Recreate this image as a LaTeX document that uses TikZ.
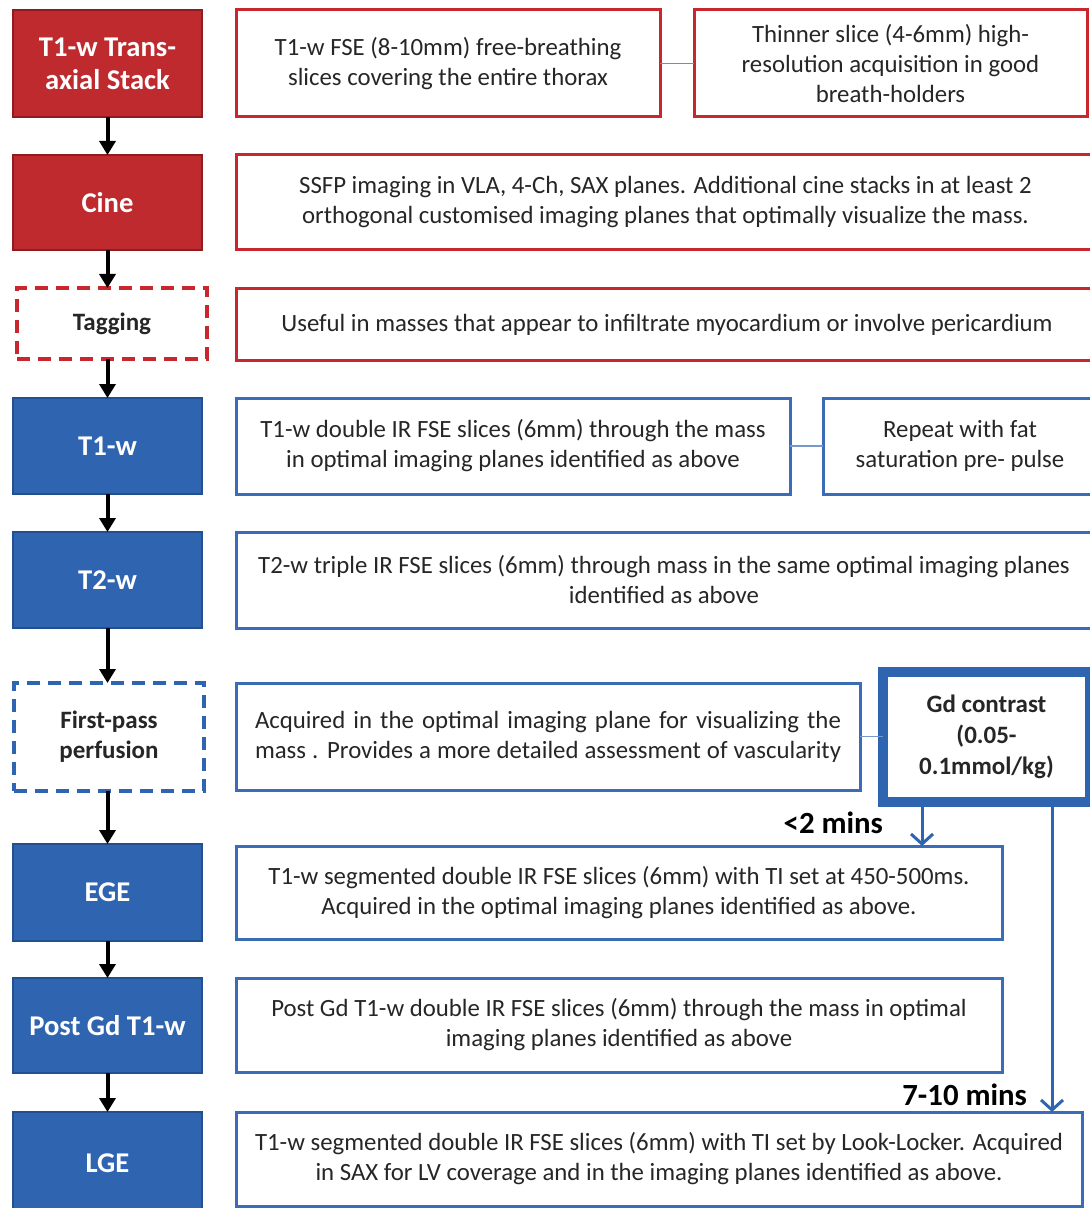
\documentclass[tikz,border=0pt]{standalone}
\usepackage{fontspec}
\setmainfont{Carlito}
\usetikzlibrary{arrows.meta}
\definecolor{cred}{HTML}{BE2A2E}
\definecolor{credd}{HTML}{8E1C20}
\definecolor{cblue}{HTML}{2F64B0}
\definecolor{cblued}{HTML}{22508F}
\definecolor{bline}{HTML}{3A6CB8}
\definecolor{rline}{HTML}{C8282D}
\definecolor{txt}{HTML}{262626}
\newcommand\bx[7]{\node[#6, minimum width={(#4-#2)*0.5pt}, minimum height={(#5-#3)*0.5pt}] (#1) at ({(#2+#4)/2},{(#3+#5)/2}) {#7};}
\begin{document}
\begin{tikzpicture}[x=0.5pt,y=-0.5pt,
  every node/.style={inner sep=0pt, outer sep=0pt},
  redstep/.style={fill=cred, draw=credd, line width=0.6pt, text=white, align=center, font=\fontsize{14.3}{16.5}\selectfont\bfseries},
  bluestep/.style={fill=cblue, draw=cblued, line width=0.6pt, text=white, align=center, font=\fontsize{14.3}{16.5}\selectfont\bfseries},
  reddash/.style={draw=rline, line width=2pt, dash pattern=on 6.5pt off 4pt, text=txt, align=center, font=\fontsize{12.5}{15}\selectfont\bfseries},
  bluedash/.style={draw=cblue, line width=2pt, dash pattern=on 6.5pt off 4pt, text=txt, align=center, font=\fontsize{12.5}{15}\selectfont\bfseries},
  rdesc/.style={draw=rline, line width=1.5pt, fill=white, text=txt, align=center, font=\fontsize{12.4}{15}\selectfont},
  bdesc/.style={draw=bline, line width=1.5pt, fill=white, text=txt, align=center, font=\fontsize{12.4}{15}\selectfont},
  gdbox/.style={draw=cblue, line width=5pt, fill=white, text=txt, align=center, font=\fontsize{12.5}{15.5}\selectfont\bfseries},
  flow/.style={line width=2pt, -{Triangle[width=8pt,length=7pt]}},
  gdflow/.style={draw=cblue, line width=1.5pt, -{Straight Barb[width=11pt,length=5pt,line width=1.5pt]}},
  rlink/.style={draw=rline!70, line width=0.8pt},
  blink/.style={draw=bline!70, line width=0.8pt},
  timelabel/.style={text=black, font=\fontsize{15.4}{17}\selectfont\bfseries, anchor=east}
]
\useasboundingbox (0,0) rectangle (1089,1208);

% left column
\bx{s1}{13}{10}{202}{117}{redstep}{T1-w Trans-\\axial Stack}
\bx{s2}{13}{155}{202}{250}{redstep}{Cine}
\bx{s3}{17}{288}{207}{359}{reddash}{Tagging}
\bx{s4}{13}{398}{202}{494}{bluestep}{T1-w}
\bx{s5}{13}{532}{202}{628}{bluestep}{T2-w}
\bx{s6}{14}{683}{204}{791}{bluedash}{First-pass\\perfusion}
\bx{s7}{13}{844}{202}{941}{bluestep}{EGE}
\bx{s8}{13}{978}{202}{1073}{bluestep}{Post Gd T1-w}
\bx{s9}{13}{1112}{202}{1214}{bluestep}{LGE}

% descriptions
\bx{d1}{236}{10}{660}{117}{rdesc}{T1-w FSE (8-10mm) free-breathing\\slices covering the entire thorax}
\bx{d1b}{694}{10}{1087}{117}{rdesc}{Thinner slice (4-6mm) high-\\resolution acquisition in good\\breath-holders}
\bx{d2}{236}{155}{1095}{250}{rdesc}{SSFP imaging in VLA, 4-Ch, SAX planes. Additional cine stacks in at least 2\\orthogonal customised imaging planes that optimally visualize the mass.}
\bx{d3}{236}{289}{1098}{360}{rdesc}{Useful in masses that appear to infiltrate myocardium or involve pericardium}
\bx{d4}{236}{398}{790}{494}{bdesc}{T1-w double IR FSE slices (6mm) through the mass\\in optimal imaging planes identified as above}
\bx{d4b}{823}{398}{1097}{494}{bdesc}{Repeat with fat\\saturation pre- pulse}
\bx{d5}{236}{532}{1092}{628}{bdesc}{T2-w triple IR FSE slices (6mm) through mass in the same optimal imaging planes\\identified as above}
\bx{d6}{236}{683}{860}{790}{bdesc}{\makebox[293pt][s]{Acquired in the  optimal imaging plane  for visualizing  the}\\\makebox[293pt][s]{mass . Provides a more detailed assessment  of vascularity}}
\bx{gd}{883}{672}{1090}{802}{gdbox}{Gd contrast\\(0.05-\\0.1mmol/kg)}
\bx{d7}{236}{846}{1002}{939}{bdesc}{T1-w segmented double IR FSE  slices (6mm) with TI set at 450-500ms.\\Acquired in the optimal imaging planes identified as above.}
\bx{d8}{236}{978}{1002}{1072}{bdesc}{Post Gd T1-w double IR FSE slices (6mm) through the mass in optimal\\imaging planes identified as above}
\bx{d9}{236}{1112}{1082}{1206}{bdesc}{T1-w segmented double IR FSE  slices (6mm) with TI set by Look-Locker. Acquired\\in SAX for LV coverage and in the imaging planes identified as above.}

% flow arrows
\draw[flow] (s1.south) -- (s1.south |- s2.north);
\draw[flow] (s2.south) -- (s2.south |- s3.north);
\draw[flow] (s2.south |- s3.south) -- (s2.south |- s4.north);
\draw[flow] (s4.south) -- (s4.south |- s5.north);
\draw[flow] (s5.south) -- (s5.south |- s6.north);
\draw[flow] (s5.south |- s6.south) -- (s5.south |- s7.north);
\draw[flow] (s7.south) -- (s7.south |- s8.north);
\draw[flow] (s8.south) -- (s8.south |- s9.north);

% links
\draw[rlink] (d1.east) -- (d1b.west);
\draw[blink] (d4.east) -- (d4b.west);
\draw[blink] (d6.east) -- (d6.east -| gd.west);

% Gd arrows
\coordinate (a2) at (922,0);
\coordinate (a7) at (1052,0);
\draw[gdflow] (a2 |- gd.south) -- (a2 |- d7.north);
\draw[gdflow] (a7 |- gd.south) -- (a7 |- d9.north);
\node[timelabel] (l2) at (883,823) {<2 mins};
\node[timelabel] (l7) at (1027,1095) {7-10 mins};
\end{tikzpicture}
\end{document}
